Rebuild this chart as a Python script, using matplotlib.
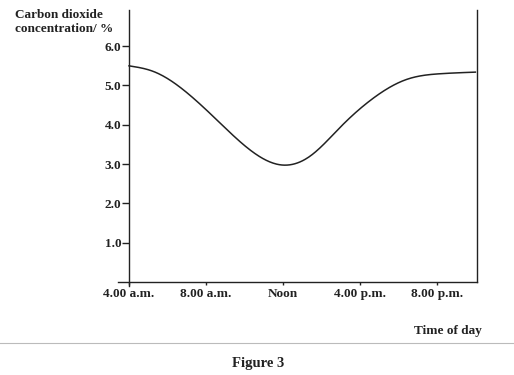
import matplotlib.pyplot as plt
from matplotlib.lines import Line2D
import numpy as np

# time of day in hours (4 = 4.00 a.m.) and CO2 concentration
hours = [4.0, 5.25, 7.0, 8.7, 10.4, 11.9, 13.4, 15.0, 16.7, 18.4, 20.2, 22.0]
co2 = [5.50, 5.36, 4.82, 4.06, 3.32, 2.98, 3.20, 3.95, 4.68, 5.15, 5.30, 5.34]
tick_hours = [4, 8, 12, 16, 20]
tick_names = ['4.00 a.m.', '8.00 a.m.', 'Noon', '4.00 p.m.', '8.00 p.m.']
y_ticks = [1, 2, 3, 4, 5, 6]

plt.rcParams['font.family'] = 'Liberation Serif'
plt.rcParams['font.weight'] = 'bold'
ink = '#222222'

fig = plt.figure(figsize=(5.14, 3.75), dpi=100)
ax = fig.add_axes([0.2286, 0.2373, 0.700, 0.736])

# natural cubic spline through the read points
x = np.array(hours)
y = np.array(co2)
n = len(x)
h = np.diff(x)
A = np.zeros((n, n))
b = np.zeros(n)
A[0, 0] = A[-1, -1] = 1
for i in range(1, n - 1):
    A[i, i - 1] = h[i - 1]
    A[i, i] = 2 * (h[i - 1] + h[i])
    A[i, i + 1] = h[i]
    b[i] = 6 * ((y[i + 1] - y[i]) / h[i] - (y[i] - y[i - 1]) / h[i - 1])
M = np.linalg.solve(A, b)
xs = np.linspace(x[0], x[-1], 400)
k = np.clip(np.searchsorted(x, xs) - 1, 0, n - 2)
t1 = x[k + 1] - xs
t0 = xs - x[k]
ys = (M[k] * t1**3 + M[k + 1] * t0**3) / (6 * h[k]) \
    + (y[k] / h[k] - M[k] * h[k] / 6) * t1 \
    + (y[k + 1] / h[k] - M[k + 1] * h[k] / 6) * t0
ax.plot(xs, ys, color=ink, lw=1.1)

ax.set_xlim(3.4, 22.1)
ax.set_ylim(-0.1, 6.92)
ax.spines['top'].set_visible(False)
ax.spines['left'].set_position(('data', 4))
ax.spines['bottom'].set_position(('data', 0))
ax.spines['right'].set_bounds(0, 6.92)
for s in ['left', 'bottom', 'right']:
    ax.spines[s].set_color(ink)
    ax.spines[s].set_linewidth(1.0)

ax.set_yticks(y_ticks)
ax.set_yticklabels(['%.1f' % v for v in y_ticks])
ax.set_xticks(tick_hours)
ax.set_xticklabels(tick_names)
ax.tick_params(axis='y', direction='out', length=5, width=1, pad=0.5,
               labelsize=9.5, colors=ink)
ax.tick_params(axis='x', direction='out', length=2.5, width=1, pad=1.5,
               labelsize=9.5, colors=ink)

fig.text(15/514, 1 - 22/375, 'Carbon dioxide\nconcentration/ %', ha='left',
         va='center', fontsize=9.5, color=ink, linespacing=1.25)
fig.text(482/514, 1 - 331/375, 'Time of day', ha='right', va='center',
         fontsize=9.5, color=ink)
fig.text(258/514, 1 - 363/375, 'Figure 3', ha='center', va='center',
         fontsize=10.5, color=ink)
fig.add_artist(Line2D([0, 1], [1 - 343/375] * 2, color='#bbbbbb', lw=0.8))

fig.savefig('out.png', dpi=100)
